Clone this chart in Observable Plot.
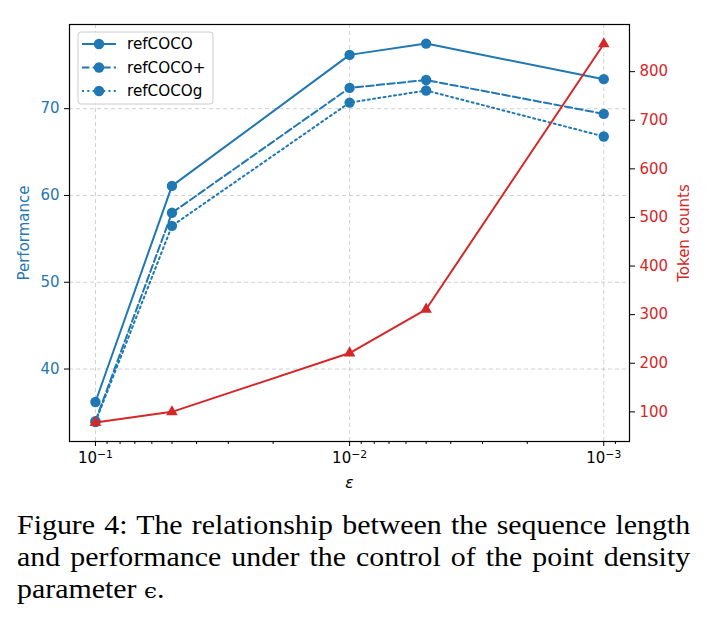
<!DOCTYPE html>
<html><head><meta charset="utf-8">
<script src="https://cdn.jsdelivr.net/npm/d3@7"></script>
<script src="https://cdn.jsdelivr.net/npm/@observablehq/plot@0.6"></script>
<style>
body{margin:0;background:#fff;width:710px;overflow:hidden;}
#chart svg{display:block;}
.caption{font-family:"Liberation Serif","Times New Roman",serif;font-size:27.2px;line-height:32px;color:#000;
  width:612px;margin-left:17px;padding-top:9px;transform:scaleX(1.1);transform-origin:0 0;}
.caption .j{text-align:justify;text-align-last:justify;}
</style></head><body>
<div id="chart"></div>
<div class="caption">
<div class="j">Figure 4: The relationship between the sequence length</div>
<div class="j">and performance under the control of the point density</div>
<div>parameter <span style="font-family:'DejaVu Serif',serif;font-size:21px">ϵ</span>.</div>
</div>
<script>
// ---- data ----
const eps = [0.1, 0.05, 0.01, 0.005, 0.001];
const seriesNames = ["refCOCO", "refCOCO+", "refCOCOg"];
const refCOCO = [36.2, 61.1, 76.2, 77.5, 73.4];
const refCOCOplus = [34.0, 58.0, 72.4, 73.3, 69.4];
const refCOCOg = [33.9, 56.5, 70.7, 72.1, 66.8];
const tokenCounts = [78, 100, 221, 311, 857];
const perfTicks = [40, 50, 60, 70];
const tokenTicks = [100, 200, 300, 400, 500, 600, 700, 800];
const xTicks = [0.1, 0.01, 0.001];
const xTickLabels = ["10^−1", "10^−2", "10^−3"];
const xMinorTicks = [0.09,0.08,0.07,0.06,0.05,0.04,0.03,0.02,0.009,0.008,0.007,0.006,0.005,0.004,0.003,0.002,0.0009];

// ---- layout ----
const W = 710, H = 500;
const mL = 69, mR = 81, mT = 24, mB = H - 441;
const xDom = [0.1265, 0.000792];
const yDom = [31.65, 79.7];
const tDom = [39, 897];
const toY = d3.scaleLinear().domain(tDom).range(yDom);
const blue = "#1f77b4", red = "#d62728";
const dashes = [null, "7.4,3.2", "2,3.3"];
const fs = 15;

const allSeries = [refCOCO, refCOCOplus, refCOCOg];
const rows = allSeries.flatMap((vals, s) => eps.map((e, i) => ({eps: e, v: vals[i], name: seriesNames[s]})));
const tokRows = eps.map((e, i) => ({eps: e, t: tokenCounts[i]}));
const tokTickPos = tokenTicks.map(t => toY(t));

const gridStyle = {stroke: "#b0b0b0", strokeOpacity: 0.6, strokeDasharray: "4,3", strokeWidth: 1};

const marks = [
  Plot.gridX(xTicks, gridStyle),
  Plot.gridY(perfTicks, gridStyle),
];
seriesNames.forEach((n, s) => {
  marks.push(Plot.line(rows.filter(d => d.name === n), {x: "eps", y: "v", stroke: blue, strokeWidth: 2, strokeDasharray: dashes[s]}));
  marks.push(Plot.dot(rows.filter(d => d.name === n), {x: "eps", y: "v", fill: blue, r: 5.2}));
});
marks.push(
  Plot.line(tokRows, {x: "eps", y: d => toY(d.t), stroke: red, strokeWidth: 2}),
  Plot.dot(tokRows, {x: "eps", y: d => toY(d.t), fill: red, symbol: "triangle", r: 4.3}),
  Plot.frame({stroke: "black", strokeWidth: 1.2}),
  Plot.axisX(xMinorTicks, {tickSize: 3, tickFormat: () => "", label: null, stroke: "black"}),
  Plot.axisX(xTicks, {tickSize: 5, tickPadding: 6, tickFormat: d => xTickLabels[xTicks.indexOf(d)],
    label: "ε", labelAnchor: "center", labelArrow: "none", labelOffset: 46, fontSize: fs, fill: "black", stroke: "black"}),
  Plot.axisY(perfTicks, {anchor: "left", tickSize: 5, tickPadding: 5, label: "Performance", labelAnchor: "center",
    labelArrow: "none", labelOffset: 51, fill: blue, stroke: "black", fontSize: fs}),
  Plot.axisY(tokTickPos, {anchor: "right", tickSize: 5, tickPadding: 5, tickFormat: d => tokenTicks[tokTickPos.indexOf(d)],
    label: "Token counts", labelAnchor: "center", labelArrow: "none", labelOffset: 59, fill: red, stroke: "black", fontSize: fs})
);

const chart = Plot.plot({
  width: W, height: H,
  marginLeft: mL, marginRight: mR, marginTop: mT, marginBottom: mB,
  style: {fontFamily: "'DejaVu Sans', sans-serif", fontSize: fs + "px", background: "white", color: "black"},
  x: {type: "log", domain: xDom},
  y: {domain: yDom},
  marks
});
document.getElementById("chart").appendChild(chart);

// italic x label
d3.select(chart).selectAll('[aria-label="x-axis label"] text').style("font-style", "italic").style("font-size", "15.5px");
// superscript exponents on x tick labels
d3.select(chart).selectAll('[aria-label="x-axis tick label"] text').each(function () {
  const t = d3.select(this);
  const s = t.text();
  if (s.indexOf("^") < 0) return;
  const [b, e] = s.split("^");
  t.text(b);
  t.append("tspan").attr("font-size", "0.72em").attr("dy", "-0.48em").text(e);
});

// ---- legend ----
const lg = d3.select(chart).append("g").attr("font-family", "'DejaVu Sans', sans-serif").attr("font-size", 15.2).attr("text-anchor", "start");
lg.append("rect").attr("x", 78).attr("y", 32).attr("width", 135).attr("height", 72).attr("rx", 3)
  .attr("fill", "white").attr("fill-opacity", 0.8).attr("stroke", "#cccccc");
seriesNames.forEach((n, s) => {
  const y = 44 + s * 23.5;
  lg.append("line").attr("x1", 82).attr("x2", 116).attr("y1", y).attr("y2", y)
    .attr("stroke", blue).attr("stroke-width", 2).attr("stroke-dasharray", dashes[s]);
  lg.append("circle").attr("cx", 99).attr("cy", y).attr("r", 5.2).attr("fill", blue);
  lg.append("text").attr("x", 127).attr("y", y).attr("dy", "0.35em").attr("fill", "black").text(n);
});
</script>
</body></html>
